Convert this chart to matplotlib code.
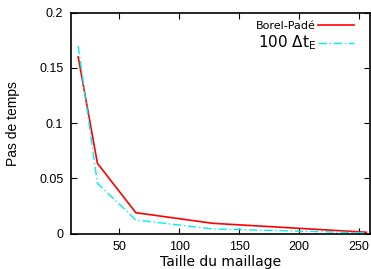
import matplotlib
matplotlib.use("Agg")
import matplotlib.pyplot as plt

mesh = [16, 32, 64, 128, 256]
borel_pade = [0.160, 0.0637, 0.019, 0.0094, 0.0013]
dt_e100 = [0.170, 0.0456, 0.0124, 0.0043, 0.0008]
xticks = [50, 100, 150, 200, 250]
yticks = [0, 0.05, 0.1, 0.15, 0.2]
yticklabels = ["0", "0.05", "0.1", "0.15", "0.2"]

plt.rcParams['font.family'] = ['DejaVu Sans']
plt.rcParams['mathtext.fontset'] = 'dejavusans'

fig = plt.figure(figsize=(3.71, 2.69), dpi=100)
ax = fig.add_axes([71/371, 1-233.7/269, (370-71)/371, (233.7-12.7)/269])

ax.plot(mesh, borel_pade, color='#ff0000', lw=1.2, label='Borel-Padé')
ax.plot(mesh, dt_e100, color='#00eef6', lw=1.0, ls=(0, (6, 2, 1, 2)),
        label=r'100 $\Delta\mathrm{t}_\mathrm{E}$')

ax.set_xlim(10, 259)
ax.set_ylim(0, 0.2)
ax.set_xticks(xticks)
ax.set_yticks(yticks)
ax.set_yticklabels(yticklabels)
ax.tick_params(direction='in', top=True, right=True, length=4, width=0.8,
               labelsize=8, pad=5.5)
for lab in ax.get_xticklabels() + ax.get_yticklabels():
    lab.set_family(['Liberation Sans', 'DejaVu Sans'])
    lab.set_fontsize(9)
for s in ax.spines.values():
    s.set_linewidth(1.2)

ax.set_xlabel('Taille du maillage', fontsize=10, labelpad=1)
ax.set_ylabel('Pas de temps', fontsize=10, labelpad=13.5,
              family=['Liberation Sans', 'DejaVu Sans'])

leg = ax.legend(loc='upper right', bbox_to_anchor=(0.954, 0.972),
                frameon=False, markerfirst=False,
                handlelength=3.25, handletextpad=0.15, labelspacing=0.2,
                borderaxespad=0.0, borderpad=0.2, fontsize=8)
leg.get_texts()[1].set_fontsize(11)

fig.savefig('out.png', dpi=100)
